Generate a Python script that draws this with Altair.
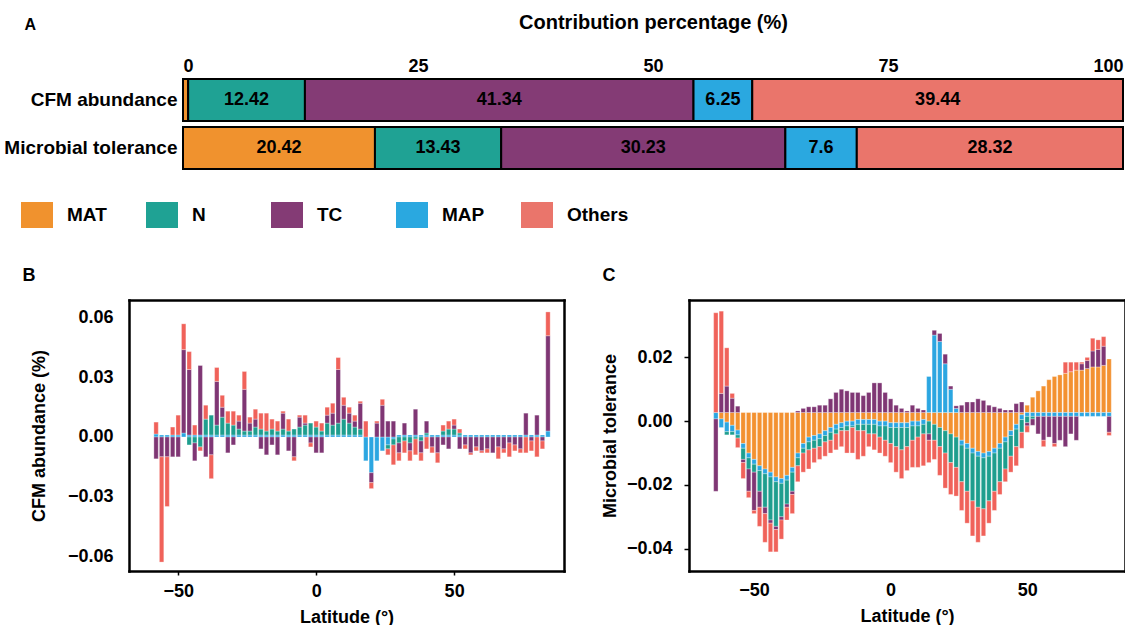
import altair as alt
import pandas as pd

FONT = "Liberation Sans"

# ---------------- Panel A : contribution percentages ----------------
A_ROWS = ["CFM abundance", "Microbial tolerance"]
A_FACTORS = ["MAT", "N", "TC", "MAP", "Others"]
A_CFM_VALUES = [0.55, 12.42, 41.34, 6.25, 39.44]
A_MIC_VALUES = [20.42, 13.43, 30.23, 7.6, 28.32]
A_CFM_LABELS = ["", "12.42", "41.34", "6.25", "39.44"]
A_MIC_LABELS = ["20.42", "13.43", "30.23", "7.6", "28.32"]
A_COLORS = ["#F0922E", "#1FA294", "#843B75", "#2AA8E0", "#EA756B"]
A_TICKS = [0, 25, 50, 75, 100]

# colours of panels B and C (same factor order as A_FACTORS)
BC_COLORS = ["#F39130", "#1E9E8E", "#7F3674", "#2BA6E1", "#F0625A"]
# stacking order away from the baseline
BC_STACK = {"MAT": 0, "MAP": 1, "N": 2, "TC": 3, "Others": 4}

# ---------------- Panel B : CFM abundance by latitude ----------------
B_LAT = [-58, -56, -54, -52, -50, -48, -46, -44, -42, -40,
         -38, -36, -34, -32, -30, -28, -26, -24, -22, -20,
         -18, -16, -14, -12, -10, -8, -6, -4, -2, 0,
         2, 4, 6, 8, 10, 12, 14, 16, 18, 20,
         22, 24, 26, 28, 30, 32, 34, 36, 38, 40,
         42, 44, 46, 48, 50, 52, 54, 56, 58, 60,
         62, 64, 66, 68, 70, 72, 74, 76, 78, 80,
         82, 84]
B_MAP = [0.0015, 0.001, 0.001, 0.001, 0.001, 0.002, 0.001, 0.001, 0.001, 0.001,
         0.001, 0.001, 0.001, 0.001, 0.001, 0.001, 0.001, 0.001, 0.001, 0.001,
         0.001, 0.001, 0.001, 0.001, 0.001, 0.001, 0.001, 0.001, 0.001, 0.001,
         0.001, 0.001, 0.001, 0.001, 0.001, 0.001, 0.001, 0.001, -0.012, -0.018,
         -0.012, -0.007, -0.004, -0.001, 0.001, 0.001, 0.001, 0.001, 0.001, 0.001,
         0.001, 0.001, 0.001, 0.001, 0.001, 0.001, 0.001, 0.001, 0.001, 0.001,
         0.001, 0.001, 0.001, 0.001, 0.001, 0.001, 0.001, 0.001, 0.001, 0.001,
         0.001, 0.003]
B_N = [0, 0, 0, 0, 0, 0, -0.004, -0.003, -0.005, 0.008,
       0.010, 0.005, 0.009, 0.006, 0.005, 0.003, 0.002, 0.002, 0.004, 0.003,
       0.002, 0.003, 0.002, 0.003, 0.002, 0.003, 0.004, 0.005, 0.006, 0.004,
       0.002, 0.006, 0.005, 0.006, 0.008, 0.006, 0.004, 0.003, 0, 0,
       0, 0, -0.002, -0.003, -0.003, -0.002, -0.003, -0.001, -0.002, 0.001,
       0, 0, 0.002, 0.003, 0.003, 0.001, 0, 0, 0, 0,
       0, 0, 0, 0, 0, 0, 0, 0, 0, 0,
       0, 0]
B_TC = [-0.011, -0.010, -0.010, -0.010, -0.010, 0.042, 0.033, -0.009, 0.035, -0.010,
        -0.009, 0.022, 0.005, -0.008, -0.004, 0.004, 0.021, 0.004, 0.004, -0.006,
        -0.009, -0.004, -0.009, 0.008, -0.007, -0.010, 0.005, 0.001, -0.003, -0.008,
        -0.008, 0.004, 0.006, 0.027, 0.007, 0.005, 0.003, 0.013, 0.0, -0.005,
        0.007, 0.016, 0.008, 0.008, -0.005, 0.006, -0.004, 0.013, -0.006, 0.006,
        -0.005, -0.008, -0.004, -0.006, 0.002, -0.006, -0.004, -0.008, -0.005, -0.007,
        -0.006, -0.008, -0.005, -0.006, -0.003, -0.004, -0.006, 0.011, -0.002, 0.010,
        -0.002, 0.048]
B_OTHERS = [0.006, -0.053, -0.025, 0.004, 0.010, 0.013, 0.009, 0.005, -0.002, 0.007,
            -0.012, 0.007, 0.006, 0.006, 0.007, 0.003, 0.009, 0.003, 0.005, 0.008,
            0.009, 0.005, 0.005, 0.001, 0.006, -0.002, 0.001, 0.004, -0.002, 0.003,
            0.004, 0.004, 0.005, 0.006, 0.004, 0.003, 0.003, 0.001, 0.008, -0.003,
            0.001, 0.003, -0.003, -0.010, -0.004, -0.006, -0.005, -0.008, -0.004, -0.006,
            -0.003, -0.005, 0.003, 0.004, 0.003, 0.002, -0.002, -0.001, -0.002, -0.001,
            -0.002, 0.0, -0.006, -0.002, -0.007, -0.003, -0.002, -0.008, -0.005, -0.010,
            -0.004, 0.012]
B_BASELINE = 0.0
B_YTICKS = [-0.06, -0.03, 0.0, 0.03, 0.06]
B_XTICKS = [-50, 0, 50]

# ---------------- Panel C : microbial tolerance by latitude ----------------
C_LAT = [-64, -62, -60, -58, -56, -54, -52, -50, -48, -46,
         -44, -42, -40, -38, -36, -34, -32, -30, -28, -26,
         -24, -22, -20, -18, -16, -14, -12, -10, -8, -6,
         -4, -2, 0, 2, 4, 6, 8, 10, 12, 14,
         16, 18, 20, 22, 24, 26, 28, 30, 32, 34,
         36, 38, 40, 42, 44, 46, 48, 50, 52, 54,
         56, 58, 60, 62, 64, 66, 68, 70, 72, 74,
         76, 78, 80]
C_MAT = [0, -0.002, -0.003, -0.004, -0.0055, -0.0097, -0.0127, -0.0147, -0.0167, -0.0177,
         -0.0187, -0.0202, -0.0207, -0.0197, -0.0172, -0.0127, -0.0097, -0.0077, -0.0072, -0.0067,
         -0.0057, -0.0047, -0.0037, -0.0032, -0.0027, -0.0027, -0.0022, -0.0022, -0.0022, -0.0022,
         -0.0027, -0.0027, -0.0032, -0.0032, -0.0032, -0.0032, -0.0027, -0.0027, -0.0022, -0.0027,
         -0.0037, -0.0047, -0.0057, -0.0067, -0.0077, -0.0087, -0.0097, -0.0112, -0.0122, -0.0127,
         -0.0122, -0.0112, -0.0097, -0.0077, -0.0057, -0.0037, -0.0007, 0.0023, 0.0048, 0.0068,
         0.0083, 0.0103, 0.0113, 0.0118, 0.0123, 0.0128, 0.0133, 0.0133, 0.0138, 0.0143,
         0.0143, 0.0148, 0.0168]
C_MAP = [-0.002, -0.0027, -0.003, -0.002, -0.0015, -0.0015, -0.0015, -0.0015, -0.0015, -0.0015,
         -0.0015, -0.0015, -0.0015, -0.0015, -0.0015, -0.0015, -0.0015, -0.0015, -0.0015, -0.0015,
         -0.0015, -0.0015, -0.0015, -0.0015, -0.0015, -0.0015, -0.0015, -0.0015, -0.0015, -0.0015,
         -0.0015, -0.0015, -0.0015, -0.0015, -0.0015, -0.0015, -0.0015, -0.0015, -0.0015, 0.0113,
         0.0243, 0.0223, 0.0153, 0.0073, 0.0013, -0.0015, -0.0015, -0.0015, -0.0015, -0.0015,
         -0.0015, -0.0015, -0.0015, -0.0015, -0.0015, -0.0015, -0.0015, -0.0012, -0.0012, -0.0012,
         -0.0012, -0.0012, -0.0012, -0.0012, -0.0012, -0.0012, -0.0012, -0.0012, -0.0012, -0.0012,
         -0.0012, -0.0012, -0.0012]
C_N = [0, 0, -0.001, -0.001, -0.001, -0.0035, -0.0035, -0.0025, -0.0065, -0.0105,
       -0.0135, -0.014, -0.0105, -0.0075, -0.006, -0.0025, -0.0015, -0.0025, -0.0025, -0.0025,
       -0.002, -0.0025, -0.0015, -0.001, -0.0015, -0.0005, -0.002, -0.002, -0.003, -0.003,
       -0.0035, -0.0045, -0.005, -0.006, -0.007, -0.006, -0.0045, -0.0035, -0.003, -0.004,
       -0.005, -0.006, -0.007, -0.009, -0.0095, -0.0115, -0.0135, -0.015, -0.016, -0.016,
       -0.014, -0.012, -0.0105, -0.0085, -0.0065, -0.0055, -0.004, -0.002, -0.0008, 0,
       0, 0, 0, 0, 0, 0, 0, 0, 0, 0,
       0, 0, 0]
C_TC = [-0.0227, 0.006, 0.0083, 0.0045, 0.002, -0.001, -0.007, -0.012, -0.005, -0.002,
        -0.001, -0.001, -0.001, -0.001, -0.001, 0.0005, 0.0013, 0.0018, 0.0018, 0.0023,
        0.0023, 0.0043, 0.0063, 0.0073, 0.0068, 0.0063, 0.0063, 0.0053, 0.0063, 0.0093,
        0.0093, 0.0063, 0.0043, 0.0023, 0.0013, 0.0005, 0.0023, 0.0013, 0.0008, -0.002,
        0.0015, 0.0025, 0.003, 0.001, 0.0008, 0.0023, 0.0033, 0.0033, 0.0043, 0.0038,
        0.0023, 0.0018, 0.0013, 0.0008, 0.0008, 0.0028, 0.0033, -0.001, -0.002, -0.0055,
        -0.0075, -0.0065, -0.0085, -0.0075, -0.0095, -0.0055, -0.0075, 0.002, 0.0025, 0.005,
        0.0055, 0.006, -0.005]
C_OTHERS = [0.0313, 0.0258, 0.012, 0.0015, -0.003, -0.005, -0.002, -0.001, -0.006, -0.009,
            -0.009, -0.007, -0.006, -0.004, -0.006, -0.005, -0.006, -0.006, -0.0045, -0.004,
            -0.0045, -0.004, -0.005, -0.005, -0.007, -0.008, -0.009, -0.008, -0.004, -0.005,
            -0.005, -0.005, -0.006, -0.008, -0.009, -0.0075, -0.0085, -0.0095, -0.010, -0.007,
            -0.006, -0.009, -0.011, -0.010, -0.009, -0.009, -0.010, -0.011, -0.011, -0.0085,
            -0.007, -0.006, -0.004, -0.004, -0.005, -0.006, -0.005, -0.002, 0, 0,
            -0.002, 0, -0.001, 0, 0.0035, 0.003, 0.0025, 0.0005, 0.001, 0.004,
            0.003, 0.003, -0.001]
C_BASELINE = 0.0027
C_YTICKS = [-0.04, -0.02, 0.0, 0.02]
C_XTICKS = [-50, 0, 50]


def long_table(lats, series):
    rows = []
    for name, values in series:
        for lat, v in zip(lats, values):
            if v != 0:
                rows.append({"lat": lat, "factor": name, "ord": BC_STACK[name], "value": v})
    return pd.DataFrame(rows)


# ---------------- build panel A ----------------
a_rows = []
for row, vals, labs in [(A_ROWS[0], A_CFM_VALUES, A_CFM_LABELS),
                        (A_ROWS[1], A_MIC_VALUES, A_MIC_LABELS)]:
    for k, (f, v, l) in enumerate(zip(A_FACTORS, vals, labs)):
        a_rows.append({"row": row, "factor": f, "ord": k, "value": v, "label": l})
dfA = pd.DataFrame(a_rows)

# panel A shares its left edge with panel B; its bars start further right
A_W, A_H, A_SHIFT = 994, 96, 54
axA = alt.Axis(orient="top", values=A_TICKS, ticks=False, domain=False, grid=False,
               labelPadding=1, labelFlush=True, title="Contribution percentage (%)",
               titleX=A_SHIFT + (A_W - A_SHIFT) / 2, titleY=-48, titleAlign="center",
               titleBaseline="alphabetic", titleFontSize=20)
xscaleA = alt.Scale(domain=[0, 100], range=[A_SHIFT, A_W], nice=False, zero=False)
yA = alt.Y("row:N", sort=A_ROWS,
           scale=alt.Scale(paddingInner=0, paddingOuter=0),
           axis=alt.Axis(title="A", titleAngle=0, titleX=-159, titleY=-47, titleAlign="left",
                         titleBaseline="alphabetic", titleFontSize=16, offset=-A_SHIFT,
                         ticks=False, domain=False, labelPadding=6, labelLimit=400,
                         labelFontSize=19))

baseA = alt.Chart(dfA).transform_stack(
    stack="value", groupby=["row"], as_=["x0", "x1"],
    sort=[alt.SortField("ord", order="ascending")]
).transform_calculate(mid="(datum.x0 + datum.x1) / 2")

LEGEND_SHAPE = "M-1,-0.8125L1,-0.8125L1,0.8125L-1,0.8125Z"
barsA = baseA.mark_bar(size=42, stroke="black", strokeWidth=2).encode(
    x=alt.X("x0:Q", scale=xscaleA, axis=axA),
    x2="x1:Q",
    y=yA,
    color=alt.Color("factor:N",
                    scale=alt.Scale(domain=A_FACTORS, range=A_COLORS),
                    legend=alt.Legend(orient="none", legendX=-108, legendY=123,
                                      direction="horizontal", columns=5, title=None,
                                      symbolType=LEGEND_SHAPE, symbolSize=1024,
                                      symbolStrokeWidth=0, symbolOpacity=1,
                                      labelFont=FONT, labelFontSize=19,
                                      labelFontWeight="bold", labelColor="black",
                                      labelOffset=14, columnPadding=17,
                                      gridAlign="all", padding=0)),
)
textA = baseA.mark_text(font=FONT, fontSize=18, fontWeight="bold", color="black",
                        baseline="middle").encode(
    x=alt.X("mid:Q", scale=xscaleA, axis=axA),
    y=yA,
    text="label:N",
)
A = alt.layer(barsA, textA).properties(width=A_W, height=A_H)


def lat_panel(df, base, xdom, ydom, xticks, yticks, ytitle, letter, letter_x,
              width, height, x_ticks_on, y_ticks_on, ylabpad, ytitle_x, xlabpad):
    xs = alt.Scale(domain=xdom, nice=False, zero=False)
    ys = alt.Scale(domain=ydom, nice=False, zero=False)
    stacked = alt.Chart(df).transform_stack(
        stack="value", groupby=["lat"], as_=["v0", "v1"], offset="zero",
        sort=[alt.SortField("ord", order="ascending")]
    ).transform_calculate(
        y0=f"datum.v0 + {base}", y1=f"datum.v1 + {base}"
    )
    bars = stacked.mark_bar(size=4.4, stroke="white", strokeWidth=0.3).encode(
        x=alt.X("lat:Q", scale=xs,
                axis=alt.Axis(values=xticks, title="Latitude (°)", grid=False, domain=True,
                              ticks=x_ticks_on, tickSize=4, labelPadding=xlabpad,
                              titlePadding=8)),
        y=alt.Y("y0:Q", scale=ys,
                axis=alt.Axis(values=yticks, format=".2f", title=ytitle, grid=False,
                              domain=True, ticks=y_ticks_on, tickSize=5,
                              labelPadding=ylabpad, titleX=ytitle_x, titleY=height / 2)),
        y2="y1:Q",
        color=alt.Color("factor:N", scale=alt.Scale(domain=A_FACTORS, range=BC_COLORS),
                        legend=None),
    )
    # opposite axes: they close the frame and carry the panel letter
    frame = stacked.mark_point(opacity=0).encode(
        x=alt.X("lat:Q", scale=xs,
                axis=alt.Axis(orient="top", labels=False, ticks=False, grid=False,
                              domain=True, title=letter, titleX=letter_x, titleY=-20,
                              titleAngle=0, titleAlign="left", titleBaseline="alphabetic")),
        y=alt.Y("y1:Q", scale=ys,
                axis=alt.Axis(orient="right", labels=False, ticks=False, grid=False,
                              domain=True, title=None)),
    )
    return alt.layer(bars, frame).resolve_axis(x="independent", y="independent").properties(
        width=width, height=height)


dfB = long_table(B_LAT, [("MAP", B_MAP), ("N", B_N), ("TC", B_TC), ("Others", B_OTHERS)])
dfC = long_table(C_LAT, [("MAT", C_MAT), ("MAP", C_MAP), ("N", C_N), ("TC", C_TC),
                         ("Others", C_OTHERS)])

B = lat_panel(dfB, B_BASELINE, [-66, 88], [-0.0675, 0.069], B_XTICKS, B_YTICKS,
              "CFM abundance (%)", "B", -107, 435, 271, True, False, 16, -81, 7)
C = lat_panel(dfC, C_BASELINE, [-72, 84], [-0.047, 0.038], C_XTICKS, C_YTICKS,
              "Microbial tolerance", "C", -87, 436, 271, False, True, 12, -70, 10)

bottom = alt.hconcat(B, C, spacing=36).resolve_scale(color="independent")

chart = alt.vconcat(A, bottom, spacing=38).resolve_scale(
    color="independent"
).properties(
    padding={"left": 3, "top": 12, "right": 0, "bottom": 0}
).configure_view(stroke=None).configure_axis(
    labelFont=FONT, labelFontSize=18, labelFontWeight="bold", labelColor="black",
    titleFont=FONT, titleFontSize=18, titleFontWeight="bold", titleColor="black",
    tickColor="black", tickWidth=1.5, domainColor="black", domainWidth=2.5,
    domainCap="square"
).configure_title(
    font=FONT, fontSize=18, fontWeight="bold", color="black"
)

chart.save("out.html", embed_options={"renderer": "svg", "actions": False})
